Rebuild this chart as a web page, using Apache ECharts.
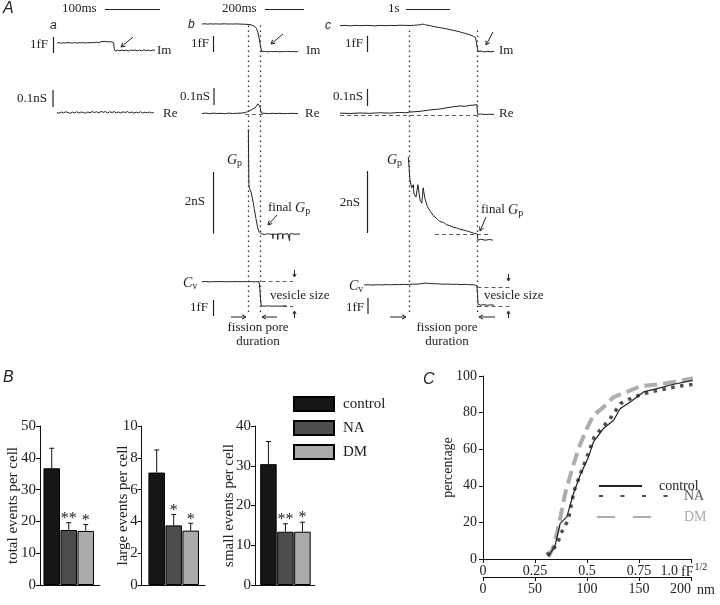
<!DOCTYPE html>
<html><head><meta charset="utf-8">
<script src="https://cdn.jsdelivr.net/npm/echarts@6/dist/echarts.min.js"></script>
<style>html,body{margin:0;padding:0;background:#fff}#c{width:720px;height:605px}</style>
</head><body><div id="c"></div>
<script>
// ================= DATA =================
// Panel B: events per cell (mean, +SEM), groups
const groups = ['control', 'NA', 'DM'];
const totalMean = [36.7, 17.3, 17.0];
const totalErr  = [6.3, 2.3, 2.0];
const totalStars = ['', '**', '*'];
const largeMean = [7.07, 3.75, 3.42];
const largeErr  = [1.42, 0.68, 0.46];
const largeStars = ['', '*', '*'];
const smallMean = [30.4, 13.4, 13.4];
const smallErr  = [5.7, 2.0, 2.4];
const smallStars = ['', '**', '*'];

// Panel C: cumulative distributions (x: fF^1/2, y: percentage)
const cdfControlX = [0.315,0.347,0.371,0.403,0.435,0.467,0.507,0.531,0.579,0.628,0.66,0.708,0.772,0.836,0.917,0.997,1.085];
const cdfControlY = [1.3,7.6,19.5,23,35.8,45.8,55.8,64,71.3,75.8,82.2,85.8,91.3,93.1,95.5,97.3,98.5];
const cdfNAX = [0.307,0.355,0.379,0.411,0.424,0.438,0.462,0.486,0.511,0.535,0.579,0.62,0.66,0.724,0.804,0.884,0.941,1.013,1.061];
const cdfNAY = [2.2,7.6,14.9,21.6,29.5,37.3,44.5,51.8,59,66.7,72.5,78,84.9,88.5,91.3,93.1,94.4,95.5,96.2];
const cdfDMX = [0.315,0.339,0.363,0.395,0.427,0.459,0.499,0.531,0.579,0.628,0.692,0.756,0.836,0.917,0.997,1.085];
const cdfDMY = [1.3,6.7,17.6,35.8,48.5,60.4,71.3,78.5,83,88.5,91.3,94.4,95.3,96.7,98.5,99.1];
const fTickLabels = ['0', '0.25', '0.5', '0.75', '1.0'];
const nmTicks = [0, 50, 100, 150, 200];

// Panel A traces: [time, value]; a,b in ms, c in s; Im/Cv in fF, Re/Gp in nS
const traceAIm = [[0,0],[4,0.02],[8,-0.01],[12,0.02],[16,0],[20,0.03],[24,0.01],[28,-0.01],[32,0.02],[36,0],[40,0.02],[44,0.01],[48,0.03],[52,0],[56,0.02],[60,0.01],[64,0.04],[68,0.02],[72,0.05],[76,0.02],[80,0.08],[83,0.03],[86,0.1],[89,0.04],[92,0.07],[95,0.03],[98,0.08],[101,0.03],[103,0.02],[104,-0.35],[106,-0.5],[110,-0.45],[114,-0.49],[118,-0.44],[122,-0.48],[126,-0.45],[130,-0.5],[134,-0.44],[138,-0.47],[142,-0.43],[146,-0.49],[150,-0.45],[154,-0.48],[158,-0.42],[162,-0.47],[166,-0.45],[170,-0.49],[174,-0.44],[178,-0.46]];
const traceARe = [[0,0],[4,-0.004],[8,0.003],[12,-0.002],[16,0.004],[20,0],[24,-0.005],[28,0.002],[32,-0.002],[36,0.004],[40,-0.003],[44,0.003],[48,0],[52,-0.004],[56,0.003],[60,-0.001],[64,0.005],[68,0],[72,0.004],[76,-0.003],[80,0.006],[84,0.001],[88,0.005],[92,-0.002],[96,0.004],[100,0],[104,0.005],[108,-0.002],[112,0.003],[116,-0.003],[120,0.004],[124,0],[128,0.005],[132,-0.002],[136,0.003],[140,-0.004],[144,0.002],[148,-0.001],[152,0.004],[156,-0.003],[160,0.002],[164,-0.002],[168,0.003],[172,-0.003],[176,0.001]];
const traceBIm = [[0,0],[15,0.01],[30,-0.005],[45,0.01],[60,0],[75,0.01],[90,-0.005],[105,0.005],[120,0.01],[135,0],[150,0.005],[165,-0.005],[180,0.005],[195,0],[210,-0.01],[225,-0.015],[242,-0.03],[252,-0.04],[262,-0.06],[272,-0.1],[280,-0.17],[288,-0.3],[295,-0.56],[300,-0.85],[305,-1.19],[310,-1.5],[314,-1.72],[330,-1.71],[345,-1.74],[360,-1.72],[375,-1.73],[390,-1.71],[405,-1.74],[420,-1.72],[435,-1.73],[450,-1.71],[465,-1.73],[480,-1.72],[495,-1.74],[505,-1.72]];
const traceBRe = [[0,0],[20,0.002],[40,-0.001],[60,0.002],[80,0],[100,0.001],[120,-0.001],[140,0.002],[160,0],[180,0.001],[200,0.002],[215,0.003],[228,0.006],[240,0.01],[250,0.015],[260,0.02],[270,0.025],[280,0.032],[288,0.042],[294,0.054],[299,0.059],[303,0.052],[306,0.035],[309,0.015],[312,0.003],[316,0],[330,0.001],[350,-0.001],[370,0.001],[390,0],[410,0.001],[430,-0.001],[450,0],[470,0.001],[490,0],[505,0]];
const traceBGp = [[244,3.4],[245,2.6],[246,2.0],[247,1.6],[249,1.52],[252,1.45],[258,1.37],[264,1.2],[270,1.0],[275,0.82],[279,0.68],[284,0.5],[288,0.36],[292,0.24],[296,0.13],[302,0.06],[309,0.02],[316,0],[330,-0.02],[345,0.01],[360,-0.01],[372,0],[373,-0.15],[374,0],[386,-0.01],[398,0],[399,-0.18],[400,0],[412,0.01],[424,0],[425,-0.16],[426,-0.01],[440,0],[452,0.01],[460,0],[461,-0.22],[462,0],[475,0.01],[490,-0.01],[505,0],[516,0]];
const traceBCv = [[0,0],[20,0.01],[40,-0.01],[60,0.005],[80,0],[100,0.01],[120,-0.005],[140,0.005],[160,0],[180,0.01],[200,-0.005],[220,0.005],[240,0],[260,0.005],[280,-0.005],[300,0],[304,-0.4],[308,-1.1],[312,-1.57],[330,-1.58],[350,-1.56],[370,-1.58],[390,-1.57],[410,-1.58],[430,-1.56],[446,-1.57]];
const traceCIm = [[0,0],[0.11,0.02],[0.23,-0.01],[0.34,0.02],[0.45,0],[0.57,0.02],[0.68,0.01],[0.8,-0.01],[0.91,0.02],[1.02,0],[1.14,0.02],[1.25,0.01],[1.36,0.03],[1.48,0.02],[1.59,0.01],[1.7,0.03],[1.8,0.05],[1.87,0.1],[1.92,0.07],[1.97,0.04],[2.05,0],[2.16,-0.07],[2.27,-0.12],[2.39,-0.18],[2.5,-0.25],[2.61,-0.31],[2.73,-0.39],[2.84,-0.48],[2.95,-0.57],[3.03,-0.66],[3.08,-0.74],[3.11,-0.86],[3.125,-1.45],[3.15,-1.62],[3.2,-1.58],[3.27,-1.64],[3.34,-1.6],[3.41,-1.63],[3.5,-1.61]];
const traceCRe = [[0,0.002],[0.23,0],[0.45,0.003],[0.68,0.001],[0.91,0.004],[1.14,0.002],[1.36,0.006],[1.48,0.004],[1.59,0.008],[1.82,0.012],[2.05,0.02],[2.27,0.025],[2.39,0.03],[2.5,0.035],[2.61,0.038],[2.73,0.042],[2.84,0.04],[2.95,0.045],[3.05,0.047],[3.11,0.05],[3.12,0.05],[3.13,-0.005],[3.2,-0.003],[3.3,-0.006],[3.4,-0.004],[3.5,-0.005]];
const traceCGp = [[1.552,2.5],[1.568,2.2],[1.59,1.75],[1.63,1.5],[1.666,1.6],[1.68,1.3],[1.727,1.2],[1.77,1.6],[1.82,1.1],[1.86,1.0],[1.89,1.5],[1.93,1.15],[1.985,0.9],[2.045,0.75],[2.08,0.8],[2.12,0.6],[2.2,0.5],[2.27,0.4],[2.35,0.38],[2.42,0.3],[2.5,0.27],[2.57,0.22],[2.65,0.2],[2.73,0.15],[2.8,0.13],[2.88,0.1],[2.95,0.07],[3.03,0.03],[3.12,0],[3.136,-0.2],[3.2,-0.17],[3.3,-0.2],[3.4,-0.18],[3.48,-0.2]];
const traceCCv = [[0.55,0],[0.65,0.02],[0.75,-0.01],[0.85,0.02],[0.95,0],[1.05,0.03],[1.15,0.01],[1.25,0.03],[1.35,0.02],[1.45,0.04],[1.55,0.03],[1.65,0.06],[1.75,0.05],[1.85,0.09],[1.95,0.12],[2.05,0.1],[2.15,0.08],[2.25,0.07],[2.35,0.05],[2.45,0.06],[2.55,0.04],[2.65,0.05],[2.75,0.03],[2.85,0.04],[2.95,0.02],[3.05,0.01],[3.11,-0.05],[3.125,-0.6],[3.14,-1.25],[3.2,-1.3],[3.27,-1.27],[3.35,-1.31],[3.43,-1.28],[3.5,-1.3]];
// fission pore start / end (dotted lines)
const fissionB = [243, 305];     // ms
const fissionC = [1.568, 3.125]; // s

// ================= LAYOUT / STYLE =================
const F = '"Liberation Serif","Times New Roman",serif';
const INK = '#222';
const grids = [], xAxes = [], yAxes = [], series = [];
function addGrid(g, xa, ya) {
  grids.push(g); const i = grids.length - 1;
  xAxes.push(Object.assign({gridIndex: i}, xa));
  yAxes.push(Object.assign({gridIndex: i}, ya));
  return i;
}
function dashMarks(marks) {
  if (!marks) return undefined;
  return {silent: true, symbol: 'none', animation: false, label: {show: false},
    lineStyle: {type: [4, 3], color: '#333', width: 0.8},
    data: marks.map(m => [{coord: [m[0], m[2]]}, {coord: [m[1], m[2]]}])};
}
function addTrace(col, y0, pxY, yMin, yMax, data, marks) {
  const i = addGrid({left: col.left, top: y0 - yMax * pxY, width: col.xMax * col.px, height: (yMax - yMin) * pxY},
    {type: 'value', min: 0, max: col.xMax, show: false},
    {type: 'value', min: yMin, max: yMax, show: false});
  series.push({type: 'line', xAxisIndex: i, yAxisIndex: i, data, symbol: 'none', clip: false, silent: true,
    lineStyle: {color: INK, width: 1}, markLine: dashMarks(marks)});
}
function addFission(col, top, height, times) {
  const i = addGrid({left: col.left, top, width: col.xMax * col.px, height},
    {type: 'value', min: 0, max: col.xMax, show: false},
    {type: 'value', min: 0, max: 1, show: false});
  series.push({type: 'line', xAxisIndex: i, yAxisIndex: i, data: [[times[0], 0]], symbol: 'none', silent: true,
    lineStyle: {opacity: 0},
    markLine: {silent: true, symbol: 'none', animation: false, label: {show: false},
      lineStyle: {type: [1.5, 3.5], color: '#333', width: 1.3},
      data: times.map(t => [{coord: [t, 0]}, {coord: [t, 1]}])}});
}
const colA = {left: 57, px: 0.55, xMax: 180};
const colB = {left: 202, px: 0.19, xMax: 520};
const colC = {left: 340, px: 44, xMax: 4.0};

addTrace(colA, 43, 16, -1, 0.5, traceAIm);
addTrace(colA, 112.5, 180, -0.05, 0.1, traceARe);
addTrace(colB, 24, 16, -2, 0.3, traceBIm);
addTrace(colB, 113.5, 180, -0.05, 0.1, traceBRe, [[226, 321, -0.003]]);
addTrace(colB, 234, 30.8, -0.5, 3.6, traceBGp, [[189, 526, 0.15]]);
addTrace(colB, 281.7, 15.5, -2, 0.5, traceBCv, [[314, 479, 0], [426, 479, -1.61]]);
addTrace(colC, 25.7, 16, -2, 0.3, traceCIm);
addTrace(colC, 113.5, 180, -0.05, 0.1, traceCRe, [[0, 3.125, -0.008]]);
addTrace(colC, 234, 30.8, -0.5, 2.8, traceCGp, [[2.16, 3.41, 0]]);
addTrace(colC, 285, 15.5, -2, 0.5, traceCCv, [[3.125, 3.86, -0.13], [3.125, 3.9, -1.35]]);
addFission(colB, 25, 287, fissionB);
addFission(colC, 27, 285, fissionC);

// ---- Panel B bar charts ----
const barColors = ['#161616', '#4c4c4c', '#ababab'];
function addBars(left, width, xMin, xMax, yMax, interval, means, errs, stars, name, nameGap) {
  const i = addGrid({left, top: 426, width, height: 159},
    {type: 'value', min: xMin, max: xMax, axisLine: {show: true, onZero: false, lineStyle: {color: '#111'}},
      axisTick: {show: false}, axisLabel: {show: false}, splitLine: {show: false}},
    {type: 'value', min: 0, max: yMax, interval, axisLine: {show: true, onZero: false, lineStyle: {color: '#111'}},
      axisTick: {show: true, length: 4, lineStyle: {color: '#111'}},
      axisLabel: {fontFamily: F, fontSize: 15, color: INK, margin: 4}, splitLine: {show: false},
      name, nameLocation: 'middle', nameGap, nameRotate: 90, nameMoveOverlap: false,
      nameTextStyle: {fontFamily: F, fontSize: 15, color: INK}});
  series.push({type: 'bar', xAxisIndex: i, yAxisIndex: i, barWidth: 16.5, silent: true,
    data: means.map((v, k) => ({value: [k + 1, v], itemStyle: {color: barColors[k]}})),
    itemStyle: {borderColor: '#000', borderWidth: 1}});
  series.push({type: 'custom', xAxisIndex: i, yAxisIndex: i, silent: true, z: 5,
    data: means.map((v, k) => [k + 1, v, errs[k]]),
    renderItem: (params, api) => {
      const x = api.value(0), y = api.value(1), e = api.value(2);
      const p0 = api.coord([x, y]), p1 = api.coord([x, y + e]);
      const ch = [
        {type: 'line', shape: {x1: p0[0], y1: p0[1], x2: p1[0], y2: p1[1]}, style: {stroke: '#111', lineWidth: 1}},
        {type: 'line', shape: {x1: p1[0] - 2.5, y1: p1[1], x2: p1[0] + 2.5, y2: p1[1]}, style: {stroke: '#111', lineWidth: 1}}];
      const s = stars[params.dataIndex];
      if (s) ch.push({type: 'text', x: p1[0], y: p1[1] + 4,
        style: {text: s, font: '16px ' + F, fill: INK, align: 'center', verticalAlign: 'bottom'}});
      return {type: 'group', children: ch};
    }});
}
addBars(40, 60, 0.31, 3.84, 50, 10, totalMean, totalErr, totalStars, 'total events per cell', 19);
addBars(141.7, 63.3, 0.12, 3.84, 10, 2, largeMean, largeErr, largeStars, 'large events per cell', 11);
addBars(255, 60, 0.21, 3.74, 40, 10, smallMean, smallErr, smallStars, 'small events per cell', 18);

// legend dummy series (hidden grid)
const gl = addGrid({left: 0, top: 0, width: 1, height: 1},
  {type: 'value', show: false}, {type: 'value', show: false});
groups.forEach((g, k) => series.push({type: 'bar', name: g, xAxisIndex: gl, yAxisIndex: gl, data: [],
  itemStyle: {color: barColors[k], borderColor: '#000', borderWidth: 1}}));

// ---- Panel C ----
const gc = addGrid({left: 483, top: 376, width: 208, height: 183},
  {type: 'value', min: 0, max: 1, interval: 0.25,
    axisLine: {show: true, onZero: false, lineStyle: {color: '#111'}},
    axisTick: {show: true, length: 4, lineStyle: {color: '#111'}},
    axisLabel: {fontFamily: F, fontSize: 14, color: INK, margin: 5, alignMaxLabel: 'right',
      formatter: (v) => { const k = Math.round(v / 0.25); return k === 4 ? '{last|' + fTickLabels[k] + '}' : fTickLabels[k]; },
      rich: {last: {fontFamily: F, fontSize: 14, color: INK, padding: [0, 13, 0, 0]}}},
    splitLine: {show: false}},
  {type: 'value', min: 0, max: 100, interval: 20,
    axisLine: {show: true, onZero: false, lineStyle: {color: '#111'}},
    axisTick: {show: true, length: 4, lineStyle: {color: '#111'}},
    axisLabel: {fontFamily: F, fontSize: 14, color: INK, margin: 6}, splitLine: {show: false},
    name: 'percentage', nameLocation: 'middle', nameGap: 28, nameRotate: 90, nameMoveOverlap: false,
    nameTextStyle: {fontFamily: F, fontSize: 14, color: INK}});
const gnm = addGrid({left: 483, top: 576, width: 208, height: 1},
  {type: 'value', min: nmTicks[0], max: nmTicks[nmTicks.length - 1], interval: 50,
    axisLine: {show: true, onZero: false, lineStyle: {color: '#111'}},
    axisTick: {show: true, length: 4, lineStyle: {color: '#111'}},
    axisLabel: {fontFamily: F, fontSize: 14, color: INK, margin: 5, alignMaxLabel: 'right'}, splitLine: {show: false}},
  {type: 'value', show: false});
const zip = (xs, ys) => xs.map((x, k) => [x, ys[k]]);
series.push({type: 'line', name: 'DM ', xAxisIndex: gc, yAxisIndex: gc, data: zip(cdfDMX, cdfDMY),
  symbol: 'none', clip: false, silent: true, itemStyle: {color: '#adadad'},
  lineStyle: {color: '#adadad', width: 4, type: [13, 6]}});
series.push({type: 'line', name: 'NA ', xAxisIndex: gc, yAxisIndex: gc, data: zip(cdfNAX, cdfNAY),
  symbol: 'none', clip: false, silent: true, itemStyle: {color: '#505050'},
  lineStyle: {color: '#505050', width: 3.5, type: [3.5, 5.5], cap: 'butt'}});
series.push({type: 'line', name: 'control ', xAxisIndex: gc, yAxisIndex: gc, data: zip(cdfControlX, cdfControlY),
  symbol: 'none', clip: false, silent: true, itemStyle: {color: '#222'}, lineStyle: {color: '#222', width: 1.2}});

const lgText = {fontFamily: F, fontSize: 14};
const noSym = {opacity: 0};
const legends = [
  {orient: 'vertical', left: 288, top: 391, itemWidth: 40, itemHeight: 14, itemGap: 8, icon: 'rect',
    selectedMode: false, data: groups, textStyle: {fontFamily: F, fontSize: 15, color: INK, padding: [0, 0, 0, 4]}},
  {left: 593, top: 474, itemWidth: 43, itemHeight: 12, selectedMode: false, data: ['control '], itemStyle: noSym,
    formatter: n => n.trim(), textStyle: Object.assign({color: INK, padding: [0, 0, 0, 12]}, lgText)},
  {left: 593, top: 484, itemWidth: 70, itemHeight: 12, selectedMode: false, data: ['NA '], itemStyle: noSym,
    lineStyle: {type: [4, 17.5]}, formatter: n => n.trim(), textStyle: Object.assign({color: '#555', padding: [0, 0, 0, 10]}, lgText)},
  {left: 591, top: 505, itemWidth: 55, itemHeight: 12, selectedMode: false, data: ['DM '], itemStyle: noSym,
    lineStyle: {type: [18, 18]}, formatter: n => n.trim(), textStyle: Object.assign({color: '#aaa', padding: [0, 0, 0, 27]}, lgText)}
];

// ---- annotations ----
const G = [];
function txt(text, x, y, align, extra) {
  G.push({type: 'text', x, y, silent: true, style: Object.assign({text, font: '13px ' + F, fill: INK,
    align: align || 'left', verticalAlign: 'middle'}, extra || {})});
}
const richSub = {i: {fontFamily: F, fontStyle: 'italic', fontSize: 14, fill: INK},
                 s: {fontFamily: F, fontSize: 10, fill: INK, padding: [7, 0, 0, 0]},
                 n: {fontFamily: F, fontSize: 13, fill: INK}};
function rich(text, x, y, align) {
  G.push({type: 'text', x, y, silent: true, style: {text, rich: richSub, align: align || 'left', verticalAlign: 'middle'}});
}
function seg(x1, y1, x2, y2, w) {
  G.push({type: 'line', silent: true, shape: {x1, y1, x2, y2}, style: {stroke: INK, lineWidth: w || 1.2}});
}
function arrow(x1, y1, x2, y2, head) {
  head = head || 4.5;
  const a = Math.atan2(y2 - y1, x2 - x1);
  seg(x1, y1, x2, y2, 1);
  G.push({type: 'polyline', silent: true, shape: {points: [
    [x2 - head * Math.cos(a - 0.5), y2 - head * Math.sin(a - 0.5)], [x2, y2],
    [x2 - head * Math.cos(a + 0.5), y2 - head * Math.sin(a + 0.5)]]}, style: {stroke: INK, lineWidth: 1, fill: null}});
}
// panel letters
txt('A', 3, 9, 'left', {font: 'italic 16px "Liberation Sans",sans-serif'});
txt('B', 3, 378, 'left', {font: 'italic 16px "Liberation Sans",sans-serif'});
txt('C', 423, 380, 'left', {font: 'italic 16px "Liberation Sans",sans-serif'});
txt('a', 50, 26, 'left', {font: 'italic 12px "Liberation Sans",sans-serif'});
txt('b', 188, 25, 'left', {font: 'italic 12px "Liberation Sans",sans-serif'});
txt('c', 325, 26, 'left', {font: 'italic 12px "Liberation Sans",sans-serif'});
// time scale bars
txt('100ms', 62, 9); seg(105, 9.5, 160, 9.5, 1);
txt('200ms', 222, 9); seg(265, 9.5, 304, 9.5, 1);
txt('1s', 388, 9); seg(406, 9.5, 450, 9.5, 1);
// Im row
txt('1fF', 48, 45, 'right'); seg(53.5, 37, 53.5, 53);
txt('1fF', 209, 44, 'right'); seg(213.5, 36, 213.5, 52);
txt('1fF', 363, 44, 'right'); seg(367.5, 36, 367.5, 52);
txt('Im', 157, 51); txt('Im', 306, 51); txt('Im', 499, 51);
arrow(133, 37, 121, 47); arrow(283, 34, 271, 44); arrow(493, 32, 486, 45);
// Re row
txt('0.1nS', 47, 99, 'right'); seg(53, 90, 53, 107);
txt('0.1nS', 210, 97, 'right'); seg(214, 88, 214, 105);
txt('0.1nS', 363, 97, 'right'); seg(367.5, 89, 367.5, 106);
txt('Re', 163, 114); txt('Re', 305, 114); txt('Re', 499, 114);
// Gp row
rich('{i|G}{s|p}', 227, 160); rich('{i|G}{s|p}', 387, 160);
txt('2nS', 205, 202, 'right'); seg(213.5, 172, 213.5, 233.5);
txt('2nS', 360, 203, 'right'); seg(367.5, 171, 367.5, 233);
rich('{n|final }{i|G}{s|p}', 268, 208); arrow(277, 215, 268, 225);
rich('{n|final }{i|G}{s|p}', 481, 210); arrow(486, 217, 480, 231);
// Cv row
rich('{i|C}{s|v}', 183, 283); rich('{i|C}{s|v}', 349, 286);
txt('1fF', 208, 308, 'right'); seg(213.5, 300, 213.5, 316);
txt('1fF', 364, 308, 'right'); seg(368, 298, 368, 314);
txt('vesicle size', 270, 296); txt('vesicle size', 484, 296);
arrow(294.5, 270, 294.5, 277, 3.5); arrow(294.5, 318, 294.5, 311, 3.5);
arrow(508.5, 274, 508.5, 281, 3.5); arrow(508.5, 318, 508.5, 311, 3.5);
arrow(231, 317, 246, 317); arrow(277, 317, 262, 317);
arrow(390, 317, 406, 317); arrow(495, 317, 479, 317);
txt('fission pore', 258, 328, 'center'); txt('duration', 258, 342, 'center');
txt('fission pore', 447, 328, 'center'); txt('duration', 447, 342, 'center');
// panel C axis units
G.push({type: 'text', x: 681, y: 572, silent: true, style: {text: 'fF{s|1/2}', font: '14px ' + F, fill: INK,
  verticalAlign: 'middle', rich: {s: {fontFamily: F, fontSize: 10, fill: INK, padding: [0, 0, 9, 1]}}}});
txt('nm', 697, 590, 'left', {font: '14px ' + F});

const chart = echarts.init(document.getElementById('c'), null, {renderer: 'canvas'});
chart.setOption({
  animation: false,
  textStyle: {fontFamily: F},
  grid: grids, xAxis: xAxes, yAxis: yAxes, series,
  legend: legends,
  graphic: {elements: G}
});
</script></body></html>
